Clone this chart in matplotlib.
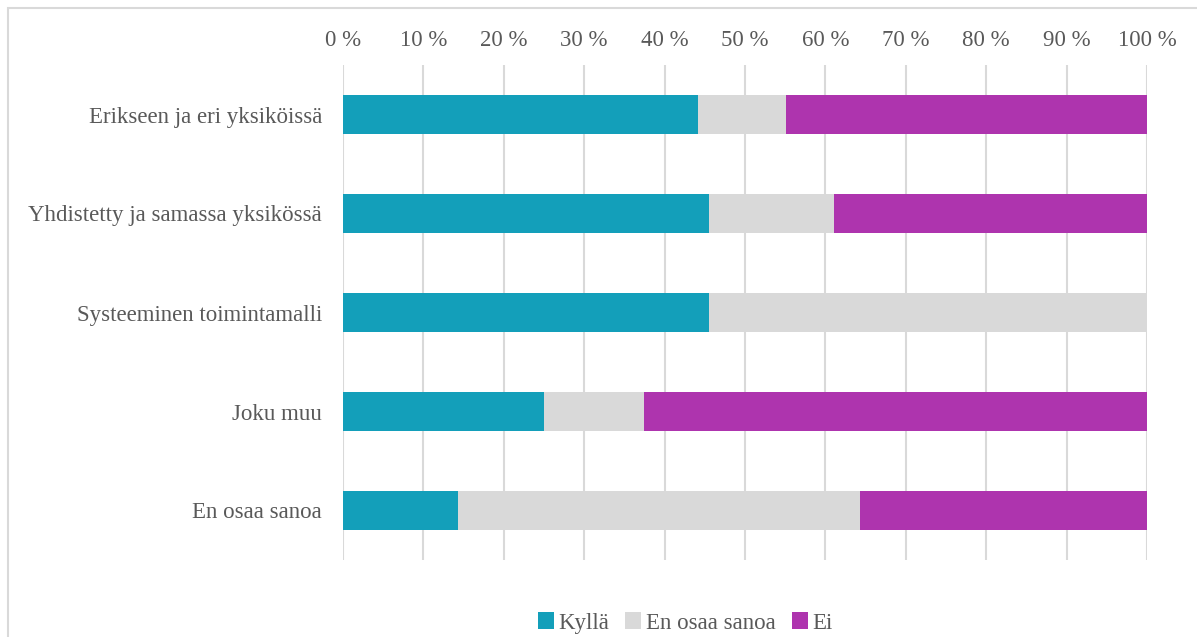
import matplotlib.pyplot as plt
from matplotlib.patches import Rectangle
import numpy as np

plt.rcParams['font.family'] = ['Liberation Serif', 'DejaVu Serif']

categories = ['Erikseen ja eri yksiköissä', 'Yhdistetty ja samassa yksikössä',
              'Systeeminen toimintamalli', 'Joku muu', 'En osaa sanoa']
kylla = [44.2, 45.5, 45.5, 25.0, 14.3]
en_osaa = [10.9, 15.6, 54.5, 12.5, 50.0]
ei = [44.9, 38.9, 0.0, 62.5, 35.7]
series_names = ['Kyllä', 'En osaa sanoa', 'Ei']
colors = ['#139FBA', '#D9D9D9', '#AE34AE']
text_col = '#595959'
fs = 16.5

W, H = 1197, 637
fig = plt.figure(figsize=(W / 100, H / 100), dpi=100)

# chart frame (runs off the right and bottom edge)
fig.patches.append(Rectangle((8 / W, -0.05), 1.2, 1 - 8 / H + 0.05,
                             transform=fig.transFigure, fill=False,
                             edgecolor='#D9D9D9', linewidth=1.5))

ax = fig.add_axes([343 / W, 1 - 560 / H, (1147 - 343) / W, (560 - 65) / H])

y = np.arange(len(categories))
left = np.zeros(len(categories))
for vals, name, c in zip([kylla, en_osaa, ei], series_names, colors):
    ax.barh(y, vals, left=left, height=0.39, color=c, label=name, zorder=3)
    left += np.array(vals)

ax.set_xlim(0, 100)
ax.set_ylim(len(categories) - 0.5, -0.5)
ax.set_yticks(y)
ax.set_yticklabels(categories, fontsize=fs, color=text_col)
ax.set_xticks(np.arange(0, 101, 10))
ax.set_xticklabels(['%d %%' % v for v in range(0, 101, 10)], fontsize=fs, color=text_col)
ax.xaxis.tick_top()
ax.tick_params(axis='x', length=0, pad=10)
ax.tick_params(axis='y', length=0, pad=15)
ax.grid(axis='x', color='#D9D9D9', linewidth=1.5, zorder=0)
for s in ax.spines.values():
    s.set_visible(False)

leg = fig.legend(loc='center', bbox_to_anchor=(685 / W, 1 - 623 / H), ncol=3,
                 frameon=False, fontsize=fs, handlelength=0.7, handleheight=0.7,
                 handletextpad=0.2, columnspacing=0.7, borderaxespad=0)
for t in leg.get_texts():
    t.set_color(text_col)

fig.savefig('out.png', dpi=100)
